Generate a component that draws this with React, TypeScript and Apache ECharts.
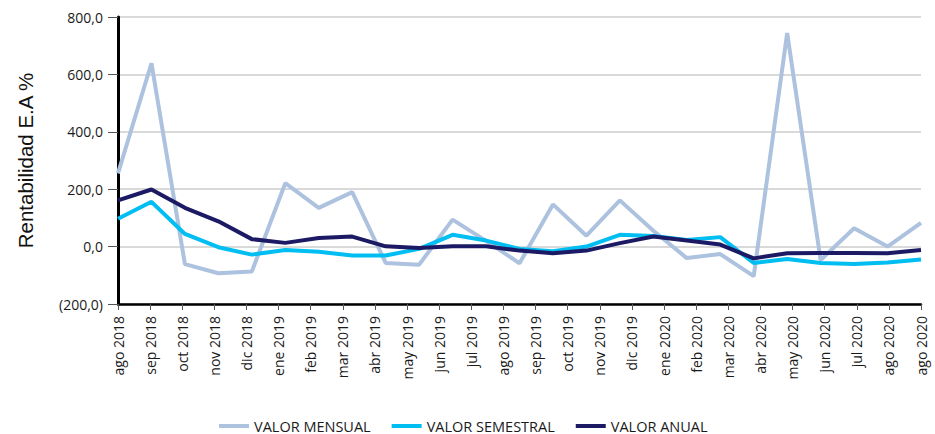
import React, { useEffect, useRef } from "react";
import * as echarts from "echarts";

const categories = [
  "ago 2018", "sep 2018", "oct 2018", "nov 2018", "dic 2018",
  "ene 2019", "feb 2019", "mar 2019", "abr 2019", "may 2019",
  "jun 2019", "jul 2019", "ago 2019", "sep 2019", "oct 2019",
  "nov 2019", "dic 2019", "ene 2020", "feb 2020", "mar 2020",
  "abr 2020", "may 2020", "jun 2020", "jul 2020", "ago 2020", "ago 2020",
];

const valorMensual = [255, 639, -61, -93, -87, 221, 135, 190, -57, -63, 94, 20, -58, 147, 38, 161, 55, -40, -26, -103, 744, -47, 64, 0, 83];
const valorSemestral = [97, 156, 44, -2, -28, -12, -18, -31, -31, -8, 41, 21, -8, -16, 0, 41, 37, 23, 33, -57, -43, -57, -61, -55, -45];
const valorAnual = [161, 199, 135, 88, 26, 13, 30, 35, 1, -5, 1, 1, -14, -23, -14, 12, 35, 21, 7, -41, -23, -22, -22, -23, -12];

const seriesNames = ["VALOR MENSUAL", "VALOR SEMESTRAL", "VALOR ANUAL"];
const seriesColors = ["#adc2de", "#00bdf2", "#1c1a64"];

const fmt = (v: number) => {
  const s = Math.abs(v).toFixed(1).replace(".", ",");
  return v < 0 ? `(${s})` : s;
};

export default function App() {
  const ref = useRef<HTMLDivElement>(null);
  useEffect(() => {
    if (!ref.current) return;
    const chart = echarts.init(ref.current, null, { renderer: "svg" });
    const toPairs = (arr: number[]) => arr.map((v, i) => [i, v]);
    const allData = [valorMensual, valorSemestral, valorAnual];
    chart.setOption({
      animation: false,
      grid: { left: 118, right: 14, top: 17, bottom: 130, containLabel: false },
      legend: {
        left: 219,
        top: 418,
        padding: 0,
        itemWidth: 30,
        itemHeight: 4,
        itemGap: 21,
        icon: "rect",
        textStyle: { fontFamily: "Open Sans", fontSize: 14.5, lineHeight: 16, color: "#1a1a1a" },
        data: seriesNames,
      },
      xAxis: [
        {
          type: "category",
          data: categories,
          boundaryGap: false,
          axisLine: { show: true, onZero: false, lineStyle: { color: "#000", width: 2.5 } },
          axisTick: { show: true, length: 6, lineStyle: { color: "#555", width: 1 } },
          axisLabel: {
            rotate: 90,
            margin: 12,
            interval: 0,
            fontFamily: "Open Sans",
            fontSize: 14,
            color: "#1a1a1a",
          },
          splitLine: { show: false },
        },
        {
          type: "value",
          min: 0,
          max: valorMensual.length - 1,
          show: false,
          splitLine: { show: false },
        },
      ],
      yAxis: {
        type: "value",
        min: -200,
        max: 800,
        interval: 200,
        name: "Rentabilidad E.A %",
        nameLocation: "middle",
        nameGap: 82,
        nameTextStyle: { fontFamily: "Liberation Sans", fontSize: 20.5, color: "#111" },
        axisLine: { show: true, lineStyle: { color: "#000", width: 3 } },
        axisTick: { show: true, length: 10, lineStyle: { color: "#555", width: 1 } },
        axisLabel: {
          margin: 15,
          formatter: fmt,
          fontFamily: "Open Sans",
          fontSize: 14,
          color: "#1a1a1a",
        },
        splitLine: { show: true, lineStyle: { color: "#d9d9d9", width: 2 } },
      },
      series: seriesNames.map((name, k) => ({
        name,
        type: "line",
        xAxisIndex: 1,
        data: toPairs(allData[k]),
        showSymbol: false,
        symbol: "none",
        color: seriesColors[k],
        lineStyle: { color: seriesColors[k], width: 4 },
        z: 2 + k,
      })),
    });
    return () => chart.dispose();
  }, []);
  return (
    <div
      ref={ref}
      style={{ position: "fixed", left: 0, top: 0, width: 935, height: 434, background: "#fff" }}
    />
  );
}
